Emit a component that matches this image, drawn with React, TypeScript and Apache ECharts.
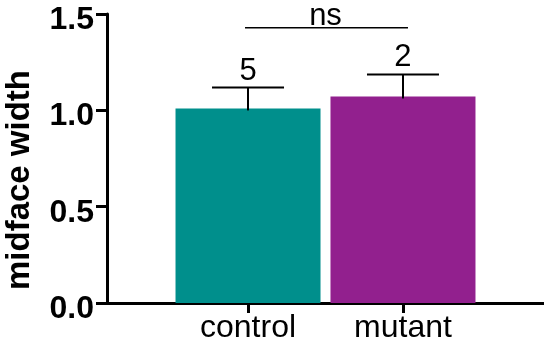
import React, { useEffect, useRef } from "react";
import * as echarts from "echarts";

const categories = ["control", "mutant"];
const positions = [1, 2];
const means = [1.01, 1.072];
const upper = [1.118, 1.186];
const counts = [5, 2];
const colors = ["#008F8C", "#92208E"];
const yTicks = [0, 0.5, 1.0, 1.5];
const sigFrom = 1;
const sigTo = 2;
const sigY = 1.428;
const sigLabel = "ns";
const yTitle = "midface width";

const FONT = "'Liberation Sans', Arial, Helvetica, sans-serif";

export default function App() {
  const ref = useRef<HTMLDivElement>(null);
  useEffect(() => {
    if (!ref.current) return;
    const chart = echarts.init(ref.current, undefined, { renderer: "svg" });
    const option: any = {
      animation: false,
      grid: { left: 107, right: 0, top: 14, bottom: 38, containLabel: false },
      xAxis: {
        type: "value",
        min: 0.09,
        max: 2.91,
        splitLine: { show: false },
        axisLine: { show: true, lineStyle: { color: "#000", width: 3 } },
        axisTick: { show: true, customValues: positions, length: 10, lineStyle: { color: "#000", width: 3 } },
        axisLabel: {
          customValues: positions,
          formatter: (v: number) => categories[positions.indexOf(v)] ?? "",
          color: "#000",
          fontFamily: FONT,
          fontSize: 32,
          lineHeight: 18,
          margin: 14,
        },
      },
      yAxis: {
        type: "value",
        min: yTicks[0],
        max: yTicks[yTicks.length - 1],
        interval: 0.5,
        splitLine: { show: false },
        axisLine: { show: true, lineStyle: { color: "#000", width: 3 } },
        axisTick: { show: true, length: 11, lineStyle: { color: "#000", width: 3 } },
        axisLabel: {
          formatter: (v: number) => v.toFixed(1),
          color: "#000",
          fontFamily: FONT,
          fontSize: 32,
          lineHeight: 8,
          verticalAlign: "top",
          fontWeight: "bold",
          margin: 13,
        },
      },
      graphic: [
        {
          type: "text",
          x: 17,
          y: 180,
          rotation: Math.PI / 2,
          style: {
            text: yTitle,
            fill: "#000",
            font: `bold 33px ${FONT}`,
            align: "center",
            verticalAlign: "middle",
          },
        },
      ],
      series: [
        {
          type: "bar",
          barWidth: 145,
          data: positions.map((p, i) => ({ value: [p, means[i]], itemStyle: { color: colors[i] } })),
          z: 2,
        },
        {
          type: "custom",
          z: 3,
          data: positions.map((p, i) => [p, means[i], upper[i], counts[i]]),
          renderItem: (params: any, api: any) => {
            const x = api.value(0);
            const top = api.coord([x, api.value(1)]);
            const cap = api.coord([x, api.value(2)]);
            const half = 36;
            return {
              type: "group",
              children: [
                { type: "line", shape: { x1: top[0], y1: top[1] + 2, x2: cap[0], y2: cap[1] }, style: { stroke: "#000", lineWidth: 2 } },
                { type: "line", shape: { x1: cap[0] - half, y1: cap[1], x2: cap[0] + half, y2: cap[1] }, style: { stroke: "#000", lineWidth: 2 } },
                {
                  type: "text",
                  x: cap[0],
                  y: cap[1] - 3,
                  style: { text: String(api.value(3)), fill: "#000", font: `31px ${FONT}`, align: "center", verticalAlign: "bottom" },
                },
              ],
            };
          },
        },
        {
          type: "custom",
          z: 3,
          data: [[sigFrom, sigTo, sigY]],
          renderItem: (params: any, api: any) => {
            const a = api.coord([api.value(0), api.value(2)]);
            const b = api.coord([api.value(1), api.value(2)]);
            return {
              type: "group",
              children: [
                { type: "line", shape: { x1: a[0] - 3, y1: a[1], x2: b[0] + 5, y2: b[1] }, style: { stroke: "#000", lineWidth: 1.5 } },
                {
                  type: "text",
                  x: (a[0] + b[0]) / 2,
                  y: a[1] - 2,
                  style: { text: sigLabel, fill: "#000", font: `31px ${FONT}`, lineHeight: 22, align: "center", verticalAlign: "bottom" },
                },
              ],
            };
          },
        },
      ],
    };
    chart.setOption(option);
    return () => chart.dispose();
  }, []);
  return <div ref={ref} style={{ position: "fixed", left: 0, top: 0, width: 544, height: 342 }} />;
}
